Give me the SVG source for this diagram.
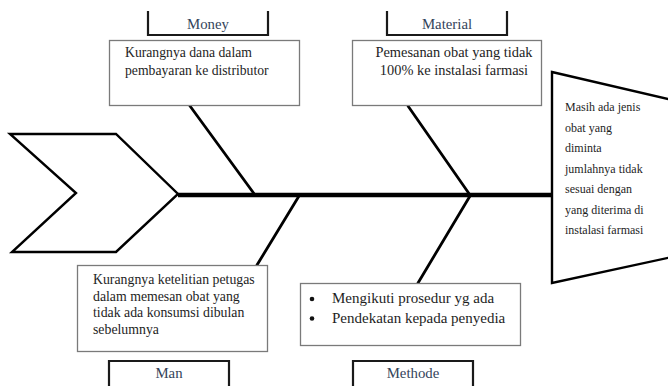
<svg xmlns="http://www.w3.org/2000/svg" width="668" height="386" viewBox="0 0 668 386">
<style>
.bg{fill:#fff}
.lbl{fill:#fff;stroke:#1a1a1a;stroke-width:2.2}
.lt{font-family:"Liberation Serif","Times New Roman",serif;font-size:14.8px;fill:#34445a;text-anchor:middle}
.cbox{fill:#fff;stroke:#7a7a7a;stroke-width:1.3}
.ct{font-family:"Liberation Serif","Times New Roman",serif;fill:#1e1e1e}
.bone{fill:none;stroke:#000;stroke-width:2.8;stroke-linecap:round}
.shape{fill:#fff;stroke:#000;stroke-width:2.4;stroke-linejoin:miter}
</style>
<rect class="bg" x="0" y="0" width="668" height="386"/>
<g id="connectors">
<line class="bone" x1="178" y1="195" x2="552" y2="195" style="stroke-width:4.5;stroke-linecap:butt"/>
<line class="bone" x1="190" y1="106" x2="255" y2="195"/>
<line class="bone" x1="408" y1="106" x2="470" y2="195"/>
<line class="bone" x1="299" y1="196" x2="257" y2="265"/>
<line class="bone" x1="470" y1="196" x2="418" y2="283"/>
</g>
<g id="tail">
<polygon class="shape" points="10,134 116,134 178,194 116,252 12,252 76,193"/>
</g>
<g id="head">
<polygon class="shape" points="552,72 672,100 672,257 552,283"/>
<text class="ct" font-size="12" x="565">
<tspan x="565" y="111">Masih ada jenis</tspan>
<tspan x="565" y="131.5">obat yang</tspan>
<tspan x="565" y="152">diminta</tspan>
<tspan x="565" y="172.5">jumlahnya tidak</tspan>
<tspan x="565" y="193">sesuai dengan</tspan>
<tspan x="565" y="213.5">yang diterima di</tspan>
<tspan x="565" y="234">instalasi farmasi</tspan>
</text>
</g>
<g id="money">
<path class="lbl" d="M148,11 V35 H268 V11"/>
<text class="lt" x="208" y="29">Money</text>
</g>
<g id="money-cause">
<rect class="cbox" x="109.5" y="40.5" width="190" height="65"/>
<text class="ct" font-size="13.7"><tspan x="125" y="57">Kurangnya dana dalam</tspan><tspan x="125" y="75">pembayaran ke distributor</tspan></text>
</g>
<g id="material">
<path class="lbl" d="M387,11 V35 H507 V11"/>
<text class="lt" x="447" y="29">Material</text>
</g>
<g id="material-cause">
<rect class="cbox" x="352.5" y="40.5" width="189" height="65"/>
<text class="ct" font-size="14.4" text-anchor="middle"><tspan x="454" y="57">Pemesanan obat yang tidak</tspan><tspan x="454" y="75">100% ke instalasi farmasi</tspan></text>
</g>
<g id="man-cause">
<rect class="cbox" x="77.5" y="265.5" width="190" height="86"/>
<text class="ct" font-size="13.8"><tspan x="93" y="284">Kurangnya ketelitian petugas</tspan><tspan x="93" y="300.5">dalam memesan obat yang</tspan><tspan x="93" y="317">tidak ada konsumsi dibulan</tspan><tspan x="93" y="333.5">sebelumnya</tspan></text>
</g>
<g id="man">
<path class="lbl" d="M109,390 V361 H229 V390"/>
<text class="lt" x="169" y="378">Man</text>
</g>
<g id="methode-cause">
<rect class="cbox" x="300.5" y="283.5" width="220" height="62"/>
<circle cx="312" cy="299" r="2.3" fill="#111"/>
<circle cx="312" cy="318.5" r="2.3" fill="#111"/>
<text class="ct" font-size="15"><tspan x="332" y="303">Mengikuti prosedur yg ada</tspan><tspan x="332" y="322.5">Pendekatan kepada penyedia</tspan></text>
</g>
<g id="methode">
<path class="lbl" d="M353,390 V361 H473 V390"/>
<text class="lt" x="413" y="378">Methode</text>
</g>
</svg>
